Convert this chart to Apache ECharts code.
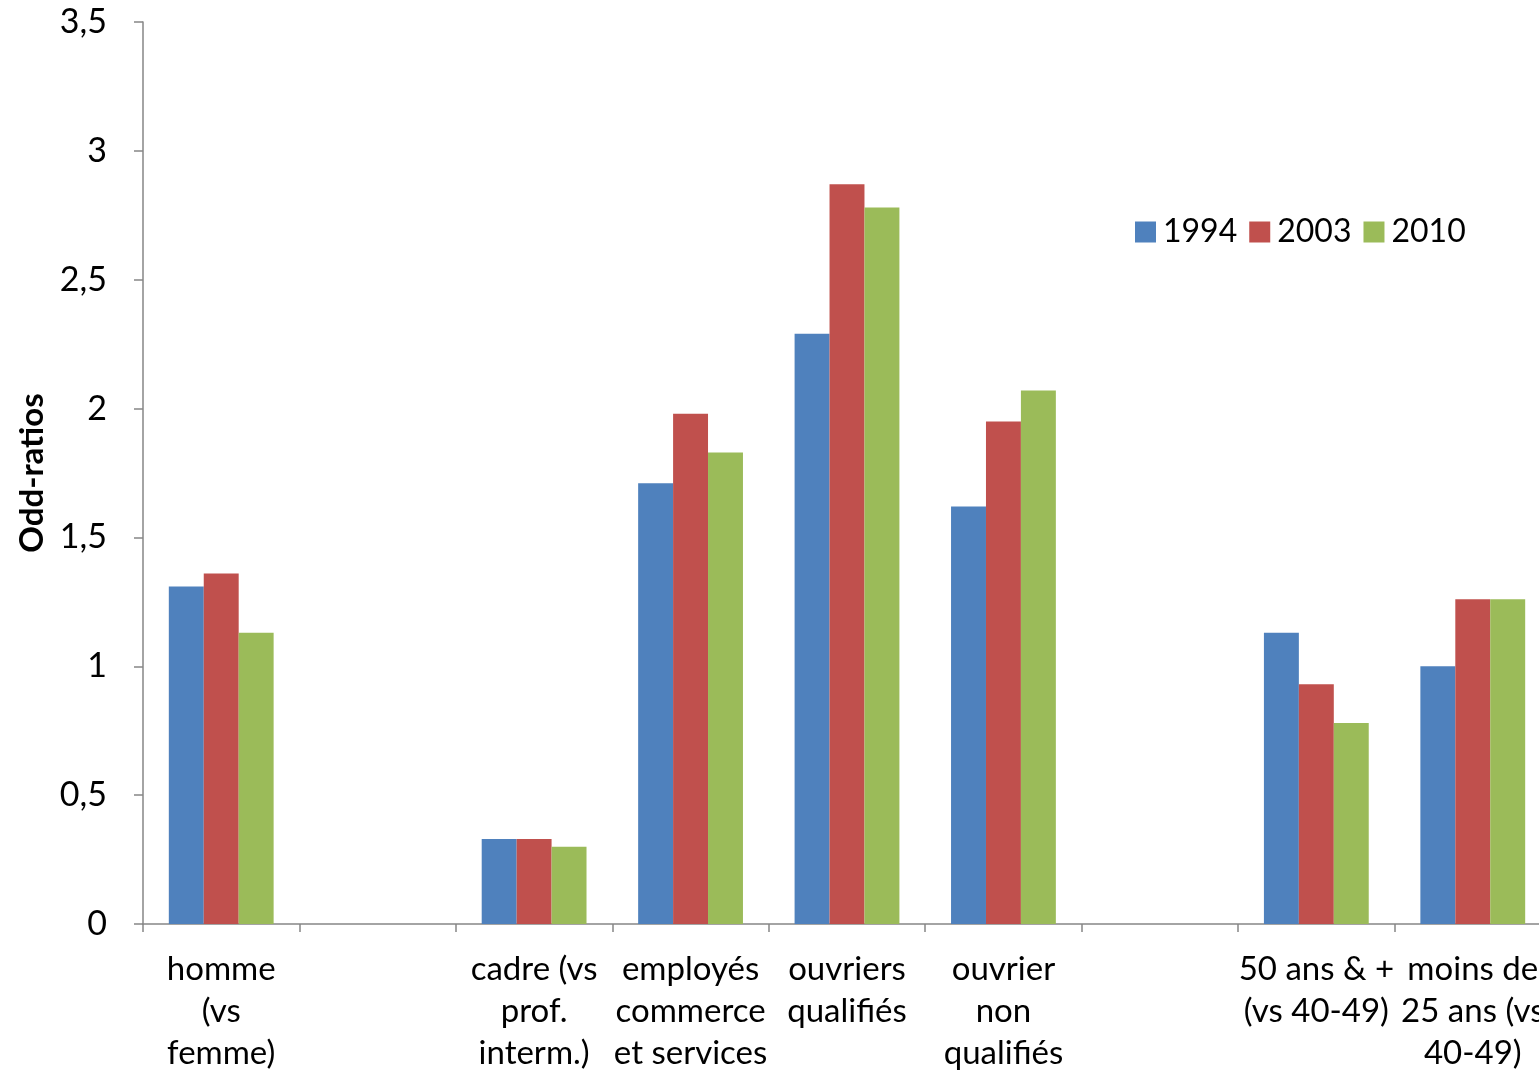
<!DOCTYPE html>
<html><head><meta charset="utf-8">
<script src="https://cdn.jsdelivr.net/npm/echarts@6/dist/echarts.min.js"></script>
<style>html,body{margin:0;padding:0;background:#fff}#c{width:1539px;height:1071px}</style>
</head><body><div id="c"></div>
<script>
const categories = ["homme\n(vs\nfemme)", "", "cadre (vs\nprof.\ninterm.)", "employés\ncommerce\net services", "ouvriers\nqualifiés", "ouvrier\nnon\nqualifiés", "", "50 ans & +\n(vs 40-49)", "moins de\n25 ans (vs\n40-49)"];
const s1994 = [1.31, null, 0.33, 1.71, 2.29, 1.62, null, 1.13, 1.00];
const s2003 = [1.36, null, 0.33, 1.98, 2.87, 1.95, null, 0.93, 1.26];
const s2010 = [1.13, null, 0.30, 1.83, 2.78, 2.07, null, 0.78, 1.26];
const seriesNames = ["1994", "2003", "2010"];
const colors = ["#4F81BD", "#C0504D", "#9BBB59"];

const FONT = "Lato";
const chart = echarts.init(document.getElementById('c'), null, {renderer: 'canvas'});
const mk = (name, data, i) => ({
  name, type: 'bar', data, barGap: '0%', barCategoryGap: '33%',
  itemStyle: {color: colors[i]}, animation: false
});
chart.setOption({
  animation: false,
  grid: {left: 143, top: 22, bottom: 147, right: -12, containLabel: false, outerBoundsMode: 'none'},
  legend: {
    left: 1130, top: 211, itemWidth: 21, itemHeight: 21, itemGap: 12,
    icon: 'rect',
    textStyle: {fontFamily: FONT, fontSize: 32, color: '#000', padding: [0, 0, 0, 2]},
    data: seriesNames
  },
  xAxis: {
    type: 'category', data: categories,
    axisLine: {lineStyle: {color: '#868686', width: 1.5}},
    axisTick: {show: true, length: 8, lineStyle: {color: '#868686', width: 1.5}},
    axisLabel: {interval: 0, fontFamily: FONT, fontSize: 33, color: '#000', lineHeight: 42, margin: 24}
  },
  yAxis: {
    type: 'value', min: 0, max: 3.5, interval: 0.5,
    name: 'Odd-ratios', nameLocation: 'middle', nameGap: 94, nameRotate: 90,
    nameTextStyle: {fontFamily: FONT, fontSize: 33, fontWeight: 'bold', color: '#000'},
    axisLine: {show: true, lineStyle: {color: '#868686', width: 1.5}},
    axisTick: {show: true, length: 9, lineStyle: {color: '#868686', width: 1.5}},
    splitLine: {show: false},
    axisLabel: {fontFamily: FONT, fontSize: 34, color: '#000', margin: 36,
      formatter: v => String(v).replace('.', ',')}
  },
  series: [mk(seriesNames[0], s1994, 0), mk(seriesNames[1], s2003, 1), mk(seriesNames[2], s2010, 2)]
});
</script></body></html>
